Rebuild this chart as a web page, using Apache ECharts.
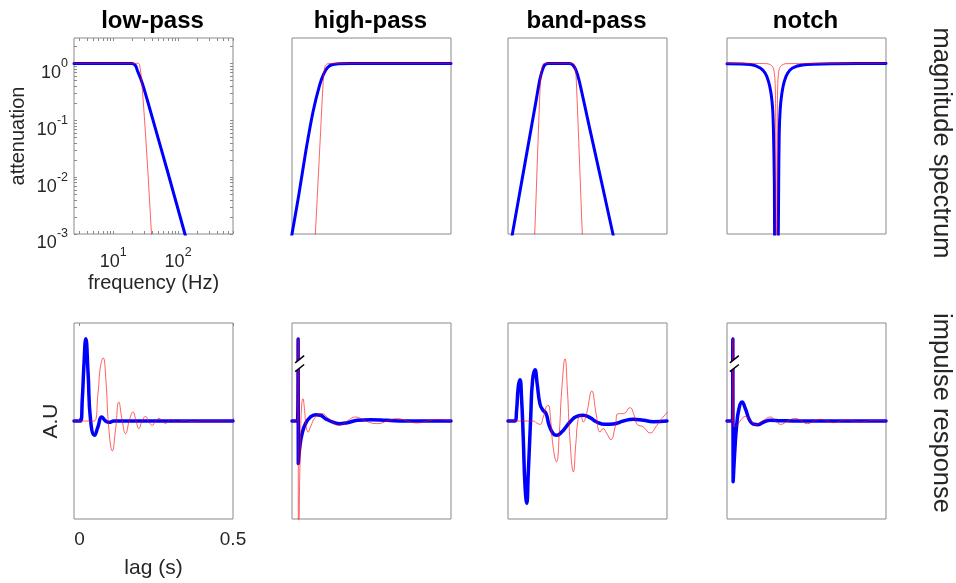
<!DOCTYPE html>
<html><head><meta charset="utf-8">
<script src="https://cdn.jsdelivr.net/npm/echarts@6/dist/echarts.min.js"></script>
<style>html,body{margin:0;padding:0;background:#fff}#c{width:956px;height:583px}</style>
</head><body><div id="c"></div>
<script>
// ---------- text / tick labels ----------
const panelTitles = ['low-pass', 'high-pass', 'band-pass', 'notch'];
const rowLabels = ['magnitude spectrum', 'impulse response'];
const freqAxisName = 'frequency (Hz)';
const magAxisName = 'attenuation';
const lagAxisName = 'lag (s)';
const impAxisName = 'A.U';
const freqTickLabels = [10, 100];
const attenTickLabels = [0.001, 0.01, 0.1, 1];
const lagTickLabels = [0, 0.5];

// ---------- magnitude spectra: [frequency (Hz), attenuation] ----------
const lowpassMagBlue = [[2.5,1],[15,1],[19.7,1],[22.2,0.91],[23.5,0.76],[26.5,0.545],[29.8,0.364],[40.1,0.111],[68.2,0.0131],[127.4,0.001],[160,0.0004]];
const lowpassMagRed = [[2.5,1],[22,1],[24,1.01],[25.5,0.95],[27.4,0.51],[30.5,0.1],[34.7,0.01],[39,0.001],[42,0.0004]];
const highpassMagBlue = [[2.3,0.0006],[2.5,0.001],[3.17,0.00474],[4.1,0.0296],[5.26,0.14],[6.65,0.415],[7.66,0.648],[8.83,0.85],[10.3,0.947],[13,0.987],[20,1],[700,1]];
const highpassMagRed = [[5.3,0.0003],[5.71,0.001],[6.81,0.049],[7.66,0.62],[8.13,0.91],[9.14,1],[700,1]];
const bandpassMagBlue = [[2.8,0.0008],[2.92,0.001],[4.8,0.0244],[6.84,0.238],[7.69,0.508],[8.45,0.763],[9.18,0.935],[10.3,1],[22.2,1],[25,0.935],[27.5,0.784],[31,0.508],[45.2,0.0722],[72.4,0.0063],[103,0.001],[115,0.0006]];
const bandpassMagRed = [[6.2,0.0005],[6.44,0.001],[7.96,0.62],[8.65,0.97],[9.27,1],[24.1,1],[26.2,0.95],[27.8,0.666],[34.8,0.001],[36,0.0005]];
const notchMagBlue = [[2.5,0.985],[5.71,0.96],[8.13,0.83],[9.7,0.67],[10.9,0.48],[11.9,0.3],[12.6,0.16],[13,0.0583],[13.4,0.0076],[13.5,0.001],[14.4,0.00001],[15.4,0.001],[15.6,0.0076],[15.9,0.0583],[16.5,0.16],[17.5,0.3],[19,0.48],[21.4,0.67],[25.5,0.83],[36.4,0.94],[109,0.985],[700,1]];
const notchMagRed = [[2.5,1],[10.3,0.99],[11.9,0.935],[13,0.817],[13.7,0.508],[14,0.15],[14.2,0.001],[14.4,0.00001],[14.7,0.001],[14.9,0.15],[15.2,0.508],[16,0.817],[17.5,0.935],[20.2,0.99],[700,1]];

// ---------- impulse responses: [lag (s), amplitude (A.U)] ----------
const lowpassImpBlue = [[-0.018,0],[0.003,0],[0.009,0.22],[0.014,0.55],[0.0205,0.84],[0.028,0.48],[0.036,0.007],[0.049,-0.146],[0.06,-0.06],[0.072,0.04],[0.085,0],[0.096,-0.014],[0.112,0],[0.5,0]];
const lowpassImpRed = [[-0.018,0],[0.047,0],[0.06,0.278],[0.068,0.55],[0.077,0.644],[0.086,0.414],[0.095,-0.061],[0.107,-0.305],[0.117,-0.095],[0.128,0.193],[0.139,0.007],[0.15,-0.129],[0.162,0],[0.174,0.092],[0.185,-0.01],[0.193,-0.078],[0.204,0],[0.215,0.047],[0.226,-0.01],[0.237,-0.044],[0.248,0],[0.259,0.027],[0.27,0],[0.28,-0.024],[0.297,0.014],[0.319,-0.014],[0.34,0.007],[0.362,-0.007],[0.395,0],[0.5,0]];
const highpassImpBlue = [[-0.018,0],[0,0],[0.002,0.837],[0.0025,-0.434],[0.0076,-0.264],[0.015,-0.129],[0.026,-0.027],[0.042,0.041],[0.059,0.064],[0.075,0.058],[0.091,0.024],[0.113,-0.01],[0.135,-0.027],[0.162,-0.017],[0.195,0.007],[0.238,0.014],[0.292,0.007],[0.35,0],[0.5,0]];
const highpassImpRed = [[-0.018,0],[0,0],[0.002,0.837],[0.003,-3],[0.0054,-1.0],[0.0098,-0.197],[0.013,0.142],[0.0174,0.227],[0.023,0.108],[0.028,-0.061],[0.035,-0.112],[0.042,-0.061],[0.059,0.041],[0.08,0.075],[0.102,0.024],[0.135,-0.044],[0.162,0],[0.189,0.041],[0.222,0],[0.26,-0.027],[0.292,0],[0.325,0.024],[0.358,0],[0.39,-0.02],[0.423,0],[0.455,0.014],[0.5,0]];
const bandpassImpBlue = [[-0.018,0],[0.0046,0],[0.01,0.108],[0.0153,0.346],[0.021,0.42],[0.026,0.244],[0.032,-0.197],[0.037,-0.637],[0.043,-0.84],[0.048,-0.536],[0.056,0.041],[0.062,0.414],[0.07,0.522],[0.077,0.38],[0.086,0.176],[0.095,0.115],[0.106,0.075],[0.116,-0.044],[0.129,-0.129],[0.14,-0.146],[0.157,-0.112],[0.184,-0.01],[0.206,0.047],[0.227,0.058],[0.249,0.034],[0.271,-0.01],[0.298,-0.034],[0.325,-0.03],[0.358,0],[0.39,0.017],[0.423,0.007],[0.455,-0.007],[0.5,0]];
const bandpassImpRed = [[-0.018,0],[0.064,0],[0.075,-0.02],[0.086,-0.034],[0.097,0.041],[0.106,0.142],[0.113,0.159],[0.121,0.007],[0.129,-0.264],[0.14,-0.417],[0.149,-0.129],[0.157,0.312],[0.168,0.634],[0.175,0.346],[0.184,-0.197],[0.195,-0.519],[0.203,-0.23],[0.211,0.024],[0.219,0.058],[0.227,-0.01],[0.238,0.075],[0.255,0.305],[0.269,0.075],[0.282,-0.112],[0.292,-0.078],[0.304,-0.129],[0.317,-0.19],[0.331,-0.061],[0.341,0.075],[0.358,0.075],[0.379,0.136],[0.393,0.058],[0.403,-0.034],[0.423,-0.061],[0.445,-0.122],[0.467,-0.044],[0.483,0.024],[0.502,0.092]];
const notchImpBlue = [[-0.018,0],[0,0],[0.001,0.837],[0.002,-0.62],[0.0076,-0.298],[0.013,-0.061],[0.021,0.125],[0.031,0.193],[0.042,0.125],[0.056,0.007],[0.07,-0.034],[0.083,-0.037],[0.102,-0.01],[0.124,0.007],[0.157,0.003],[0.222,0],[0.5,0]];
const notchImpRed = [[-0.018,0],[0,0],[0.001,0.837],[0.004,-0.061],[0.015,-0.044],[0.028,0.014],[0.042,0.047],[0.059,0.007],[0.075,-0.037],[0.097,0],[0.124,0.041],[0.14,0],[0.157,-0.034],[0.18,0],[0.205,0.027],[0.224,0],[0.244,-0.027],[0.265,0],[0.287,0.017],[0.309,0],[0.33,-0.017],[0.352,0],[0.374,0.01],[0.396,0],[0.417,-0.01],[0.439,0],[0.461,0.007],[0.5,0]];
// axis-break markers on the truncated spikes: [lag, amplitude]
const highpassBreak = [[0.007, 0.585]];
const notchBreak = [[0.006, 0.585]];

// ---------- layout / style ----------
const FONT = '"Liberation Sans", Arial, Helvetica, sans-serif';
const TXT = '#262626';
const BOX = '#8a8a8a';
const BLUE = '#0000ff';
const RED = 'rgba(255,0,0,0.62)';
const lefts = [74, 292, 508, 727];
const W = 159, H = 196;
const rowTop = [38, 323];

const magSets = [[lowpassMagBlue, lowpassMagRed],[highpassMagBlue, highpassMagRed],[bandpassMagBlue, bandpassMagRed],[notchMagBlue, notchMagRed]];
const impSets = [[lowpassImpBlue, lowpassImpRed],[highpassImpBlue, highpassImpRed],[bandpassImpBlue, bandpassImpRed],[notchImpBlue, notchImpRed]];

const freqTicks = [];
[1, 10, 100].forEach(d => { for (let k = 1; k <= 9; k++) { const v = k * d; if (v >= 2.5 && v <= 700) freqTicks.push(v); } });
const magTicks = [];
[0.001, 0.01, 0.1, 1].forEach(d => { for (let k = 1; k <= 9; k++) { const v = k * d; if (v <= 2.8) magTicks.push(+v.toPrecision(3)); } });

const supLabel = v => '{b|10}{s|' + Math.round(Math.log10(v)) + '}';
const richSup = {
  b: { fontSize: 18, lineHeight: 25, verticalAlign: 'bottom', color: TXT, fontFamily: FONT },
  s: { fontSize: 12.5, lineHeight: 12, verticalAlign: 'top', color: TXT, fontFamily: FONT }
};
const nameStyle = size => ({ fontSize: size, color: TXT, fontFamily: FONT });

const grid = [], xAxis = [], yAxis = [], series = [], title = [];
for (let r = 0; r < 2; r++) for (let c = 0; c < 4; c++) {
  grid.push({ left: lefts[c], top: rowTop[r], width: W, height: H, show: true, borderColor: BOX, borderWidth: 1, backgroundColor: '#fff', containLabel: false, outerBoundsMode: 'none' });
}
const tickStyle = (vals) => ({ show: true, inside: true, length: 3, lineStyle: { color: BOX, width: 1 }, customValues: vals });
const off = { show: false };

for (let c = 0; c < 4; c++) {
  const first = c === 0;
  xAxis.push({ gridIndex: c, type: 'log', logBase: 10, min: 2.5, max: 700,
    axisLine: off, splitLine: off, minorTick: off,
    axisTick: first ? tickStyle(freqTicks) : off,
    axisLabel: first ? { show: true, customValues: freqTickLabels, formatter: supLabel, rich: richSup, margin: 12.5 } : off,
    name: first ? freqAxisName : '', nameLocation: 'middle', nameGap: 39, nameTextStyle: nameStyle(20) });
  yAxis.push({ gridIndex: c, type: 'log', logBase: 10, min: 0.001, max: 2.8,
    axisLine: off, splitLine: off, minorTick: off,
    axisTick: first ? tickStyle(magTicks) : off,
    axisLabel: first ? { show: true, customValues: attenTickLabels, formatter: supLabel, rich: richSup, margin: 6, padding: [12, 0, 0, 0] } : off,
    name: first ? magAxisName : '', nameLocation: 'middle', nameGap: 46, nameTextStyle: nameStyle(20) });
}
for (let c = 0; c < 4; c++) {
  const first = c === 0;
  xAxis.push({ gridIndex: 4 + c, type: 'value', min: -0.018, max: 0.5,
    axisLine: off, splitLine: off,
    axisTick: first ? tickStyle(lagTickLabels) : off,
    axisLabel: first ? { show: true, customValues: lagTickLabels, formatter: v => String(v), fontSize: 19, color: TXT, fontFamily: FONT, margin: 11 } : off,
    name: first ? lagAxisName : '', nameLocation: 'middle', nameGap: 39, nameTextStyle: nameStyle(21) });
  yAxis.push({ gridIndex: 4 + c, type: 'value', min: -1, max: 1,
    axisLine: off, splitLine: off, axisTick: off, axisLabel: off,
    name: first ? impAxisName : '', nameLocation: 'middle', nameGap: 12, nameTextStyle: nameStyle(21) });
}
// mirrored ticks (box ticks) on first column
xAxis.push({ gridIndex: 0, type: 'log', logBase: 10, min: 2.5, max: 700, position: 'top', axisLine: off, splitLine: off, axisLabel: off, axisTick: tickStyle(freqTicks) });
yAxis.push({ gridIndex: 0, type: 'log', logBase: 10, min: 0.001, max: 2.8, position: 'right', axisLine: off, splitLine: off, axisLabel: off, axisTick: tickStyle(magTicks) });
xAxis.push({ gridIndex: 4, type: 'value', min: -0.018, max: 0.5, position: 'top', axisLine: off, splitLine: off, axisLabel: off, axisTick: tickStyle(lagTickLabels) });

const lineSeries = (idx, data, color, width, smooth, z) => ({
  type: 'line', xAxisIndex: idx, yAxisIndex: idx, data, showSymbol: false, symbol: 'none',
  smooth, clip: true, silent: true, z,
  lineStyle: { color, width, cap: 'round', join: 'round' }
});
magSets.forEach((s, c) => {
  series.push(lineSeries(c, s[0], BLUE, 3, 0.25, 2));
  series.push(lineSeries(c, s[1], RED, 1, 0.25, 3));
});
impSets.forEach((s, c) => {
  series.push(lineSeries(4 + c, s[0], BLUE, 3.5, 0.5, 2));
  series.push(lineSeries(4 + c, s[1], RED, 1, 0.5, 3));
});
const breakItem = (params, api) => {
  const p = api.coord([api.value(0), api.value(1)]);
  return { type: 'group', x: p[0], y: p[1], children: [
    { type: 'polygon', shape: { points: [[-4.5, -0.8], [4.5, -8], [4.5, 0.8], [-4.5, 8]] }, style: { fill: '#fff' } },
    { type: 'line', shape: { x1: -4.5, y1: -0.8, x2: 4.5, y2: -8 }, style: { stroke: '#000', lineWidth: 1.5 } },
    { type: 'line', shape: { x1: -4.5, y1: 8, x2: 4.5, y2: 0.8 }, style: { stroke: '#000', lineWidth: 1.5 } }
  ] };
};
series.push({ type: 'custom', xAxisIndex: 5, yAxisIndex: 5, data: highpassBreak, renderItem: breakItem, z: 5, silent: true });
series.push({ type: 'custom', xAxisIndex: 7, yAxisIndex: 7, data: notchBreak, renderItem: breakItem, z: 5, silent: true });

panelTitles.forEach((t, c) => {
  title.push({ text: t, left: lefts[c] + W / 2 - 1, top: 9, textAlign: 'center', padding: 0,
    textStyle: { fontSize: 24, fontWeight: 'bold', color: '#000', fontFamily: FONT } });
});

const graphic = [
  { type: 'text', x: 941, y: 143, rotation: -Math.PI / 2, style: { text: rowLabels[0], fontSize: 25.5, fontFamily: FONT, fill: TXT, align: 'center', verticalAlign: 'middle' } },
  { type: 'text', x: 941, y: 413, rotation: -Math.PI / 2, style: { text: rowLabels[1], fontSize: 25.5, fontFamily: FONT, fill: TXT, align: 'center', verticalAlign: 'middle' } }
];

const chart = echarts.init(document.getElementById('c'), null, { renderer: 'canvas' });
chart.setOption({ animation: false, backgroundColor: '#fff', title, grid, xAxis, yAxis, series, graphic });
</script></body></html>
